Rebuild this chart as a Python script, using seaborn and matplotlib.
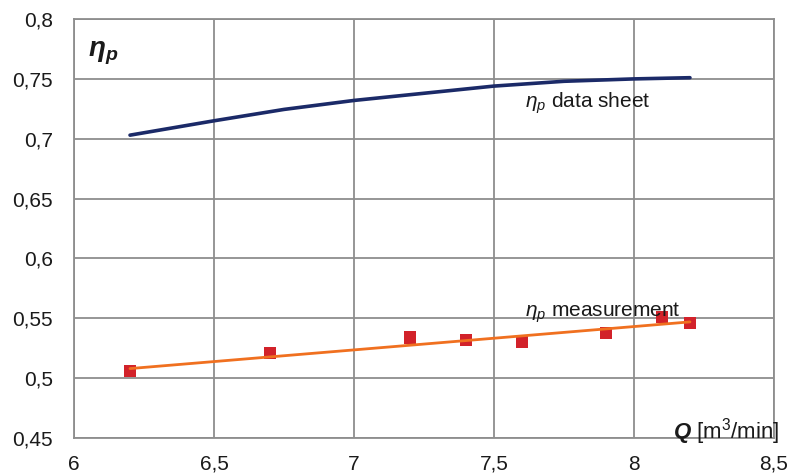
import matplotlib
matplotlib.use("Agg")
import matplotlib.pyplot as plt
import seaborn as sns
import pandas as pd

# ---- data ----
q_meas = [6.2, 6.7, 7.2, 7.4, 7.6, 7.9, 8.1, 8.2]
eta_meas = [0.506, 0.521, 0.534, 0.532, 0.530, 0.538, 0.551, 0.546]

q_fit = [6.2, 8.2]
eta_fit = [0.508, 0.547]

q_sheet = [6.2, 6.5, 6.75, 7.0, 7.25, 7.5, 7.75, 8.0, 8.2]
eta_sheet = [0.703, 0.715, 0.7245, 0.732, 0.738, 0.744, 0.748, 0.750, 0.751]

x_ticks = [6.0, 6.5, 7.0, 7.5, 8.0, 8.5]
x_ticklabels = ["6", "6,5", "7", "7,5", "8", "8,5"]
y_ticks = [0.45, 0.5, 0.55, 0.6, 0.65, 0.7, 0.75, 0.8]
y_ticklabels = ["0,45", "0,5", "0,55", "0,6", "0,65", "0,7", "0,75", "0,8"]

sns.set_theme(style="whitegrid")
plt.rcParams["font.family"] = ["Liberation Sans", "DejaVu Sans"]
plt.rcParams["mathtext.fontset"] = "custom"
plt.rcParams["mathtext.rm"] = "Liberation Sans"
plt.rcParams["mathtext.it"] = "Liberation Sans:italic"
plt.rcParams["mathtext.bf"] = "Liberation Sans:bold:italic"

df_meas = pd.DataFrame({"Q": q_meas, "eta": eta_meas})
df_fit = pd.DataFrame({"Q": q_fit, "eta": eta_fit})
df_sheet = pd.DataFrame({"Q": q_sheet, "eta": eta_sheet})

fig = plt.figure(figsize=(7.9, 4.75), dpi=100)
ax = fig.add_axes([0.0937, 0.0779, 0.886, 0.882])

grid_c = "#8e8e8e"

sns.scatterplot(data=df_meas, x="Q", y="eta", marker="s", s=78,
                color="#d2222a", edgecolor="none", ax=ax, zorder=3)
sns.lineplot(data=df_fit, x="Q", y="eta", color="#f07020", lw=2.0,
             ax=ax, zorder=4)
sns.lineplot(data=df_sheet, x="Q", y="eta", color="#1b2a68", lw=2.6,
             ax=ax, zorder=4)

ax.set_xlim(6.0, 8.5)
ax.set_ylim(0.45, 0.8)
ax.set_xticks(x_ticks)
ax.set_xticklabels(x_ticklabels)
ax.set_yticks(y_ticks)
ax.set_yticklabels(y_ticklabels)
ax.set_xlabel("")
ax.set_ylabel("")

ax.grid(True, color=grid_c, lw=1.3)
for s in ax.spines.values():
    s.set_visible(True)
    s.set_color(grid_c)
    s.set_linewidth(1.3)
ax.tick_params(axis="both", which="major", labelsize=15, colors=grid_c,
               labelcolor="#1a1a1a", length=5, width=1.3, direction="out")
ax.tick_params(axis="x", pad=7)
ax.tick_params(axis="y", pad=10)
ax.set_facecolor("white")

ax.text(6.05, 0.771, r"$\mathbf{\eta_p}$", fontsize=20, va="center", ha="left",
        color="#1a1a1a")
ax.text(7.61, 0.7298, r"$\eta_p$ data sheet", fontsize=15, va="center",
        ha="left", color="#1a1a1a")
ax.text(7.61, 0.555, r"$\eta_p$ measurement", fontsize=15, va="center",
        ha="left", color="#1a1a1a")
ax.text(8.52, 0.4555, r"$\mathbf{Q}$ [m$^3$/min]", fontsize=16, va="center",
        ha="right", color="#1a1a1a", clip_on=False, zorder=5)

fig.savefig("out.png", dpi=100, facecolor="white")
